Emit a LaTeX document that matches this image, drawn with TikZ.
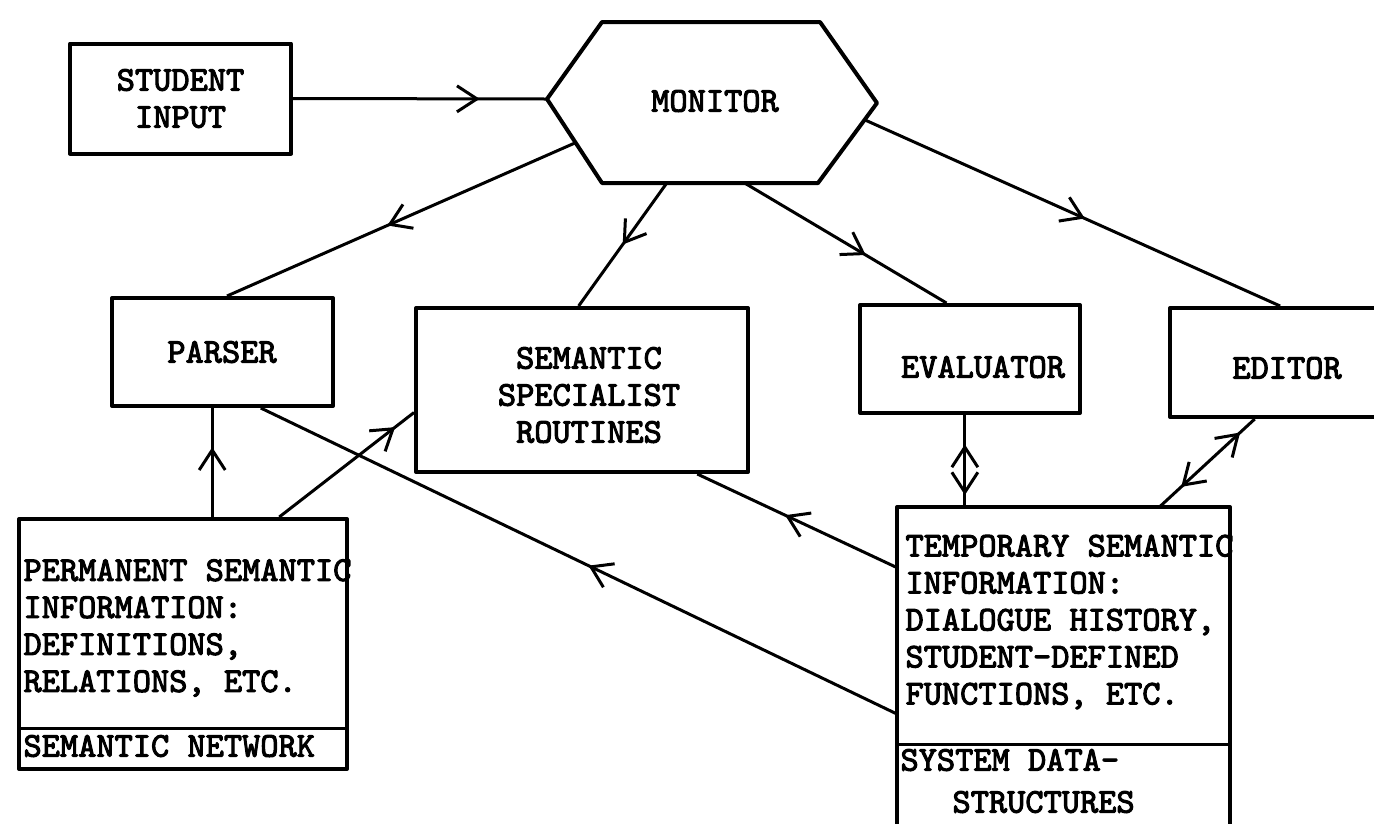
\documentclass[tikz,border=0pt]{standalone}
\usepackage{fontspec}
\setmonofont{lmmono10-regular.otf}[FakeBold=3]
\usetikzlibrary{arrows.meta,decorations.markings,calc}
\begin{document}
\begin{tikzpicture}[x=1pt,y=-1pt,line width=3pt,line join=round,
  barb/.tip={Straight Barb[length=20pt,width=26pt,line width=3pt]},
  box/.style={draw,line width=4pt,inner sep=0pt},
  lbl/.style={font=\ttfamily\fontsize{34.7}{37}\selectfont,align=center,inner sep=0pt},
  txt/.style={font=\ttfamily\fontsize{34.7}{37}\selectfont,align=left,inner sep=0pt,anchor=west},
  mid/.style={postaction={decorate},decoration={markings,mark=at position #1 with {\arrow{barb}}}},
  twoway/.style 2 args={postaction={decorate},decoration={markings,
     mark=at position #1 with {\arrowreversed{barb}},
     mark=at position #2 with {\arrow{barb}}}}]
\useasboundingbox (0,0) rectangle (1374,823);

% nodes
\node[box,lbl,minimum width=221,minimum height=110] (stu) at (180.5,98.5) {STUDENT\\INPUT};
\coordinate (m1) at (547,99);
\coordinate (m2) at (602,22);
\coordinate (m3) at (820,22);
\coordinate (m4) at (877,103);
\coordinate (m5) at (818,183);
\coordinate (m6) at (602,183);
\draw[line width=4pt] (m1) -- (m2) -- (m3) -- (m4) -- (m5) -- (m6) -- cycle;
\node[lbl] (mon) at (715,101) {MONITOR};

\node[box,minimum width=221,minimum height=108] (par) at (222.5,352) {};
\node[lbl] (part) at (222,352) {PARSER};
\node[box,minimum width=332,minimum height=164] (sem) at (582,390) {};
\node[lbl] (semt) at (589,395) {SEMANTIC\\SPECIALIST\\ROUTINES};
\node[box,minimum width=220,minimum height=108] (eva) at (970,359) {};
\node[lbl] (evat) at (983,367) {EVALUATOR};
\node[box,minimum width=206,minimum height=109] (edi) at (1273,362.5) {};
\node[lbl] (edit) at (1287,368) {EDITOR};

% permanent semantic information
\node[box,minimum width=328,minimum height=250,anchor=north west] (perm) at (17,517) {};
\draw[line width=3pt] ($(perm.north west)!0.832!(perm.south west)$) coordinate (pd1)
   -- (pd1 -| perm.east);
\node[txt] (permt) at (22,628) {PERMANENT SEMANTIC\\INFORMATION:\\DEFINITIONS,\\RELATIONS, ETC.};
\node[txt] (semnet) at (22,746) {SEMANTIC NETWORK};

% temporary semantic information
\node[minimum width=330,minimum height=316,anchor=north west,inner sep=0pt] (temp) at (897,507) {};
\draw[line width=4pt] (temp.south west) -- (temp.north west) -- (temp.north east) -- (temp.south east);
\draw[line width=3pt] ($(temp.north west)!0.744!(temp.south west)$) coordinate (td1)
   -- (td1 -| temp.east);
\node[txt] (tempt) at (904,622) {TEMPORARY SEMANTIC\\INFORMATION:\\DIALOGUE HISTORY,\\STUDENT-DEFINED\\FUNCTIONS, ETC.};
\node[txt] (sys1) at (899,760) {SYSTEM DATA-};
\node[txt] (sys2) at (951,802) {STRUCTURES};

% connectors
\draw[mid=0.735] (stu.east) -- (m1);
\draw[mid=0.54] ($(m1)!0.52!(m6)$) -- ($(par.north west)!0.52!(par.north east)$);
\draw[mid=0.5] ($(m6)!0.3!(m5)$) -- ($(sem.north west)!0.49!(sem.north east)$);
\draw[mid=0.6] ($(m6)!0.66!(m5)$) -- ($(eva.north west)!0.395!(eva.north east)$);
\draw[mid=0.53] ($(m4)!0.21!(m5)$) -- ($(edi.north west)!0.534!(edi.north east)$);

\draw[mid=0.64] ($(perm.north west)!0.588!(perm.north east)$) coordinate (pp) -- (pp |- par.south);
\draw[mid=0.86] ($(perm.north west)!0.79!(perm.north east)$) -- ($(sem.north west)!0.634!(sem.south west)$);
\draw[mid=0.56] ($(temp.north west)!0.19!(temp.south west)$) -- ($(sem.south west)!0.843!(sem.south east)$);
\draw[mid=0.485] ($(temp.north west)!0.649!(temp.south west)$) -- ($(par.south west)!0.67!(par.south east)$);

\draw[twoway={0.32}{0.87}] ($(eva.south west)!0.477!(eva.south east)$) coordinate (ee) -- (ee |- temp.north);
\draw[twoway={0.23}{0.85}] ($(temp.north west)!0.788!(temp.north east)$) -- ($(edi.south west)!0.413!(edi.south east)$);
\end{tikzpicture}
\end{document}
